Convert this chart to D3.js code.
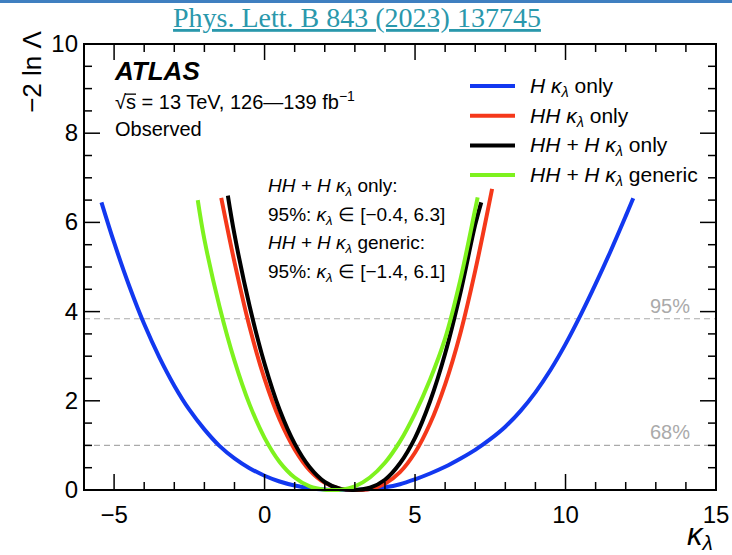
<!DOCTYPE html>
<html>
<head>
<meta charset="utf-8">
<script src="https://cdn.jsdelivr.net/npm/d3@7"></script>
<style>
  body { margin: 0; background: #fff; }
  svg { display: block; font-family: "Liberation Sans", Arial, Helvetica, sans-serif; }
</style>
</head>
<body>
<svg width="732" height="555"></svg>
<script>
// kappa_lambda scan points
var blueX = [-5.42, -5, -4.5, -4, -3.5, -3, -2.5, -2, -1.5, -1, -0.5, 0, 0.5, 1, 1.5, 2, 2.5, 3, 3.5, 4, 4.5, 5, 5.5, 6, 6.5, 7, 7.5, 8, 8.5, 9, 9.5, 10, 10.5, 11, 11.5, 12, 12.25];
var blueY = [6.45, 5.55, 4.58, 3.72, 2.98, 2.34, 1.8, 1.36, 0.99, 0.71, 0.49, 0.32, 0.19, 0.1, 0.04, 0.01, 0, 0, 0.02, 0.06, 0.13, 0.24, 0.37, 0.52, 0.7, 0.9, 1.14, 1.42, 1.77, 2.19, 2.69, 3.27, 3.92, 4.62, 5.36, 6.14, 6.54];

var redX = [-1.44, -1, -0.5, 0, 0.5, 1, 1.5, 2, 2.5, 3, 3.5, 4, 4.5, 5, 5.5, 6, 6.5, 7, 7.56];
var redY = [6.55, 5.11, 3.66, 2.49, 1.58, 0.91, 0.44, 0.16, 0.03, 0, 0.02, 0.14, 0.4, 0.84, 1.49, 2.37, 3.5, 4.92, 6.75];

var blackX = [-1.22, -1, -0.5, 0, 0.5, 1, 1.5, 2, 2.5, 2.95, 3.5, 4, 4.5, 5, 5.5, 6, 6.5, 7, 7.2];
var blackY = [6.6, 5.73, 4.13, 2.83, 1.8, 1.04, 0.51, 0.18, 0.03, 0, 0.05, 0.23, 0.6, 1.17, 1.99, 3.06, 4.4, 5.95, 6.45];

var greenX = [-2.22, -2, -1.5, -1, -0.5, 0, 0.5, 1, 1.5, 2, 2.28, 2.5, 3, 3.5, 4, 4.5, 5, 5.5, 6, 6.5, 7, 7.08];
var greenY = [6.5, 5.62, 4.12, 2.9, 1.92, 1.17, 0.63, 0.28, 0.08, 0.005, 0, 0.003, 0.08, 0.28, 0.61, 1.09, 1.72, 2.48, 3.4, 4.7, 6.3, 6.56];

var seriesColors = ["#1238f0", "#f5381a", "#000000", "#7ef21e"];

var xTicks = [-5, 0, 5, 10, 15];
var yTicks = [0, 2, 4, 6, 8, 10];
var clLevels = [3.84, 1];
var clLabels = ["95%", "68%"];

var svg = d3.select("svg");

var plotL = 84, plotR = 716, plotT = 44, plotB = 490;

var x = d3.scaleLinear().domain([-6, 15]).range([plotL, plotR]);
var y = d3.scaleLinear().domain([0, 10]).range([plotB, plotT]);

// header bar and reference
svg.append("rect").attr("x", 0).attr("y", 0).attr("width", 732).attr("height", 3).attr("fill", "#3f7fc0");
svg.append("text")
  .attr("x", 357).attr("y", 27)
  .attr("text-anchor", "middle")
  .attr("font-family", "'Liberation Serif', 'Times New Roman', serif")
  .style("font-size", "28px")
  .attr("fill", "#2a98ac")
  .attr("text-decoration", "underline")
  .text("Phys. Lett. B 843 (2023) 137745");

// CL lines
clLevels.forEach(function (v, i) {
  svg.append("line")
    .attr("x1", plotL).attr("x2", plotR)
    .attr("y1", y(v)).attr("y2", y(v))
    .attr("stroke", "#aaaaaa").attr("stroke-width", 1.2)
    .attr("stroke-dasharray", "6,4");
  svg.append("text")
    .attr("x", 690).attr("y", y(v) - 6)
    .attr("text-anchor", "end")
    .attr("fill", "#aaaaaa")
    .style("font-size", "20px")
    .text(clLabels[i]);
});

// curves
var line = d3.line()
  .x(function (d) { return x(d[0]); })
  .y(function (d) { return y(d[1]); })
  .curve(d3.curveCatmullRom);

var curves = [[blueX, blueY], [redX, redY], [blackX, blackY], [greenX, greenY]];
curves.forEach(function (c, i) {
  var pts = d3.zip(c[0], c[1]);
  svg.append("path")
    .attr("d", line(pts))
    .attr("fill", "none")
    .attr("stroke", seriesColors[i])
    .attr("stroke-width", 4);
});

// axes: minor and major ticks on all four sides
var axisG = svg.append("g").attr("stroke", "#000");
d3.range(-6, 15.01, 1).forEach(function (v) {
  var major = xTicks.indexOf(v) >= 0;
  var len = major ? 16 : 8;
  axisG.append("line").attr("x1", x(v)).attr("x2", x(v)).attr("y1", plotB).attr("y2", plotB - len).attr("stroke-width", 1.5);
  axisG.append("line").attr("x1", x(v)).attr("x2", x(v)).attr("y1", plotT).attr("y2", plotT + len).attr("stroke-width", 1.5);
});
d3.range(0, 10.01, 0.5).forEach(function (v) {
  var major = yTicks.indexOf(v) >= 0;
  var len = major ? 16 : 8;
  axisG.append("line").attr("x1", plotL).attr("x2", plotL + len).attr("y1", y(v)).attr("y2", y(v)).attr("stroke-width", 1.5);
  axisG.append("line").attr("x1", plotR).attr("x2", plotR - len).attr("y1", y(v)).attr("y2", y(v)).attr("stroke-width", 1.5);
});
svg.append("rect")
  .attr("x", plotL).attr("y", plotT)
  .attr("width", plotR - plotL).attr("height", plotB - plotT)
  .attr("fill", "none").attr("stroke", "#000").attr("stroke-width", 2);

xTicks.forEach(function (v) {
  svg.append("text")
    .attr("x", x(v)).attr("y", 523)
    .attr("text-anchor", "middle")
    .style("font-size", "24px")
    .text(v < 0 ? "\u2212" + Math.abs(v) : v);
});
yTicks.forEach(function (v) {
  svg.append("text")
    .attr("x", 78).attr("y", y(v) + 8)
    .attr("text-anchor", "end")
    .style("font-size", "24px")
    .text(v);
});

// axis titles
svg.append("text")
  .attr("transform", "translate(41,72) rotate(-90)")
  .attr("text-anchor", "middle")
  .style("font-size", "26px")
  .text("\u22122 ln \u039B");

var xt = svg.append("text")
  .attr("x", 687).attr("y", 545)
  .style("font-size", "31px")
  .attr("font-style", "italic");
xt.append("tspan").text("\u03BA");
xt.append("tspan").attr("dy", 5).style("font-size", "21px").text("\u03BB");

// ATLAS label
svg.append("text")
  .attr("x", 115).attr("y", 80)
  .attr("font-weight", 800).attr("font-style", "italic")
  .style("font-size", "26px")
  .text("ATLAS");
var en = svg.append("text").attr("x", 115).attr("y", 109).style("font-size", "20px");
en.append("tspan").text("\u221As = 13 TeV, 126\u2014139 fb");
en.append("tspan").attr("dy", -8).style("font-size", "14px").text("\u22121");
// overline of the square root
var rootW = en.node().getSubStringLength(0, 1);
var sW = en.node().getSubStringLength(1, 1);
svg.append("rect").attr("x", 115 + rootW - 1).attr("y", 93.5).attr("width", sW + 1).attr("height", 1.3).attr("fill", "#000");
svg.append("text").attr("x", 115).attr("y", 136).style("font-size", "20px").text("Observed");

// kappa_lambda text helper: italic prefix, kappa with lambda subscript, plain suffix
function kapLabel(t, pre, post, size) {
  t.append("tspan").attr("font-style", "italic").text(pre);
  t.append("tspan").attr("font-style", "italic").text("\u03BA");
  t.append("tspan").attr("font-style", "italic").attr("dy", 4).style("font-size", (size * 0.7) + "px").text("\u03BB");
  t.append("tspan").attr("dy", -4).text(post);
}

// legend
var legPre = ["H ", "HH ", "HH + H ", "HH + H "];
var legPost = [" only", " only", " only", " generic"];
legPre.forEach(function (p, i) {
  var ly = 86 + i * 29.7;
  svg.append("line")
    .attr("x1", 470).attr("x2", 515)
    .attr("y1", ly).attr("y2", ly)
    .attr("stroke", seriesColors[i]).attr("stroke-width", 4);
  var t = svg.append("text").attr("x", 530).attr("y", ly + 7).style("font-size", "21px");
  kapLabel(t, p, legPost[i], 21);
});

// 95% intervals
var a1 = svg.append("text").attr("x", 268).attr("y", 192).style("font-size", "19px");
kapLabel(a1, "HH + H ", " only:", 19);
var a2 = svg.append("text").attr("x", 268).attr("y", 221).style("font-size", "19px");
a2.append("tspan").text("95%: ");
kapLabel(a2, "", " \u2208 [\u22120.4, 6.3]", 19);
var a3 = svg.append("text").attr("x", 268).attr("y", 249).style("font-size", "19px");
kapLabel(a3, "HH + H ", " generic:", 19);
var a4 = svg.append("text").attr("x", 268).attr("y", 278).style("font-size", "19px");
a4.append("tspan").text("95%: ");
kapLabel(a4, "", " \u2208 [\u22121.4, 6.1]", 19);
</script>
</body>
</html>
